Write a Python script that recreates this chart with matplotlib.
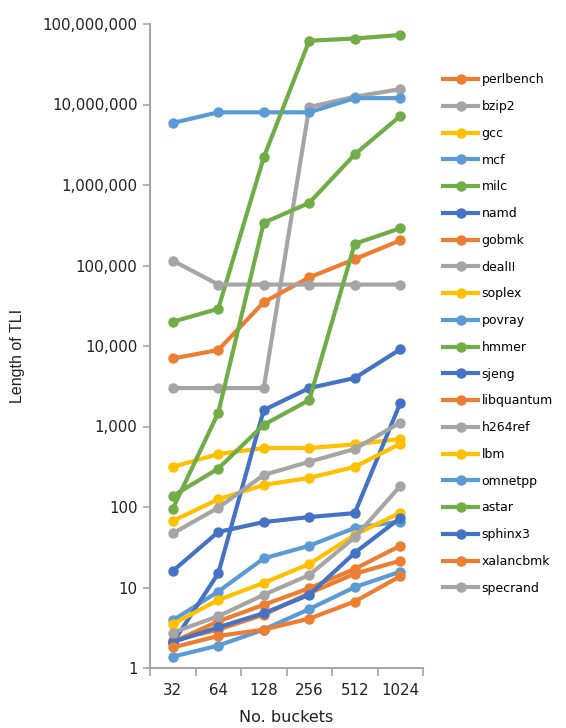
import matplotlib
matplotlib.use('Agg')
import matplotlib.pyplot as plt
from matplotlib.ticker import FixedLocator, FuncFormatter, NullLocator

# 桶数 (x 轴类别)
buckets = ['32', '64', '128', '256', '512', '1024']

# 各 benchmark 的 TLI 长度
perlbench = [2.1, 3.8, 6.1, 9.8, 17, 33]
bzip2 = [3000, 3000, 3000, 9.3e6, 1.25e7, 1.55e7]
gcc = [315, 455, 540, 540, 600, 700]
mcf = [5.9e6, 8.0e6, 8.0e6, 8.0e6, 1.2e7, 1.2e7]
milc = [20000, 29000, 2.2e6, 6.2e7, 6.6e7, 7.3e7]
namd = [16, 49, 65, 75, 84, 1950]
gobmk = [7000, 8900, 35000, 71000, 120000, 205000]
dealII = [115000, 58000, 58000, 58000, 58000, 58000]
soplex = [67, 125, 188, 230, 315, 610]
povray = [3.9, 8.9, 23, 33, 55, 66]
hmmer = [95, 1480, 340000, 600000, 2.4e6, 7.2e6]
sjeng = [2.05, 15, 1600, 3000, 4000, 9100]
libquantum = [2.2, 3.0, 4.6, 8.5, 14.8, 21.5]
h264ref = [47, 98, 250, 365, 525, 1120]
lbm = [3.5, 7.0, 11.4, 19.6, 45, 85]
omnetpp = [1.38, 1.9, 3.0, 5.4, 10.1, 15.7]
astar = [137, 300, 1050, 2130, 186000, 290000]
sphinx3 = [2.1, 3.2, 4.8, 8.1, 27, 73]
xalancbmk = [1.8, 2.5, 3.0, 4.1, 6.7, 13.8]
specrand = [2.75, 4.4, 8.1, 14.3, 42, 182]

names = ['perlbench', 'bzip2', 'gcc', 'mcf', 'milc', 'namd', 'gobmk', 'dealII',
         'soplex', 'povray', 'hmmer', 'sjeng', 'libquantum', 'h264ref', 'lbm',
         'omnetpp', 'astar', 'sphinx3', 'xalancbmk', 'specrand']
series = [perlbench, bzip2, gcc, mcf, milc, namd, gobmk, dealII, soplex, povray,
          hmmer, sjeng, libquantum, h264ref, lbm, omnetpp, astar, sphinx3,
          xalancbmk, specrand]

# Office 配色, 每 6 个循环
palette = ['#ED7D31', '#A5A5A5', '#FFC000', '#5B9BD5', '#70AD47', '#4472C4']

fig = plt.figure(figsize=(5.66, 7.28), dpi=100)
ax = fig.add_axes([150 / 566, 1 - 668 / 728, 273 / 566, 644 / 728])

x = list(range(len(buckets)))
for i, (name, vals) in enumerate(zip(names, series)):
    ax.plot(x, vals, '-o', color=palette[i % 6], lw=3, ms=6.5, label=name)

ax.set_yscale('log')
ax.set_ylim(1, 1e8)
ax.set_xlim(-0.5, len(buckets) - 0.5)
ax.yaxis.set_major_locator(FixedLocator([10 ** k for k in range(9)]))
ax.yaxis.set_minor_locator(NullLocator())
ax.yaxis.set_major_formatter(FuncFormatter(lambda v, p: f'{int(round(v)):,}'))

ax.set_xticks(x)
ax.set_xticklabels(buckets)
ax.set_xticks([k - 0.5 for k in range(len(buckets) + 1)], minor=True)
ax.tick_params(axis='x', which='major', length=0, pad=11, labelsize=10.8,
               labelcolor='#222222')
ax.tick_params(axis='x', which='minor', length=6, width=1.2, color='#A6A6A6')
ax.tick_params(axis='y', which='major', length=5, width=1.2, color='#A6A6A6',
               labelsize=10.8, labelcolor='#222222', pad=4)

for side in ['top', 'right']:
    ax.spines[side].set_visible(False)
for side in ['left', 'bottom']:
    ax.spines[side].set_color('#A6A6A6')
    ax.spines[side].set_linewidth(1.5)

fig.text(18 / 566, 1 - 356 / 728, 'Length of TLI', rotation=90, ha='center',
         va='center', fontsize=11.5, color='#222222',
         family=['Liberation Sans Narrow', 'Liberation Sans'])
fig.text(286 / 566, 1 - 717 / 728, 'No. buckets', ha='center', va='center',
         fontsize=11.5, color='#222222')

fig.legend(loc='center left', bbox_to_anchor=(443 / 566, 1 - 334 / 728),
           frameon=False, fontsize=9, handlelength=2.8, labelspacing=1.1,
           handletextpad=0.3, borderpad=0, borderaxespad=0)

fig.savefig('out.png', dpi=100)
